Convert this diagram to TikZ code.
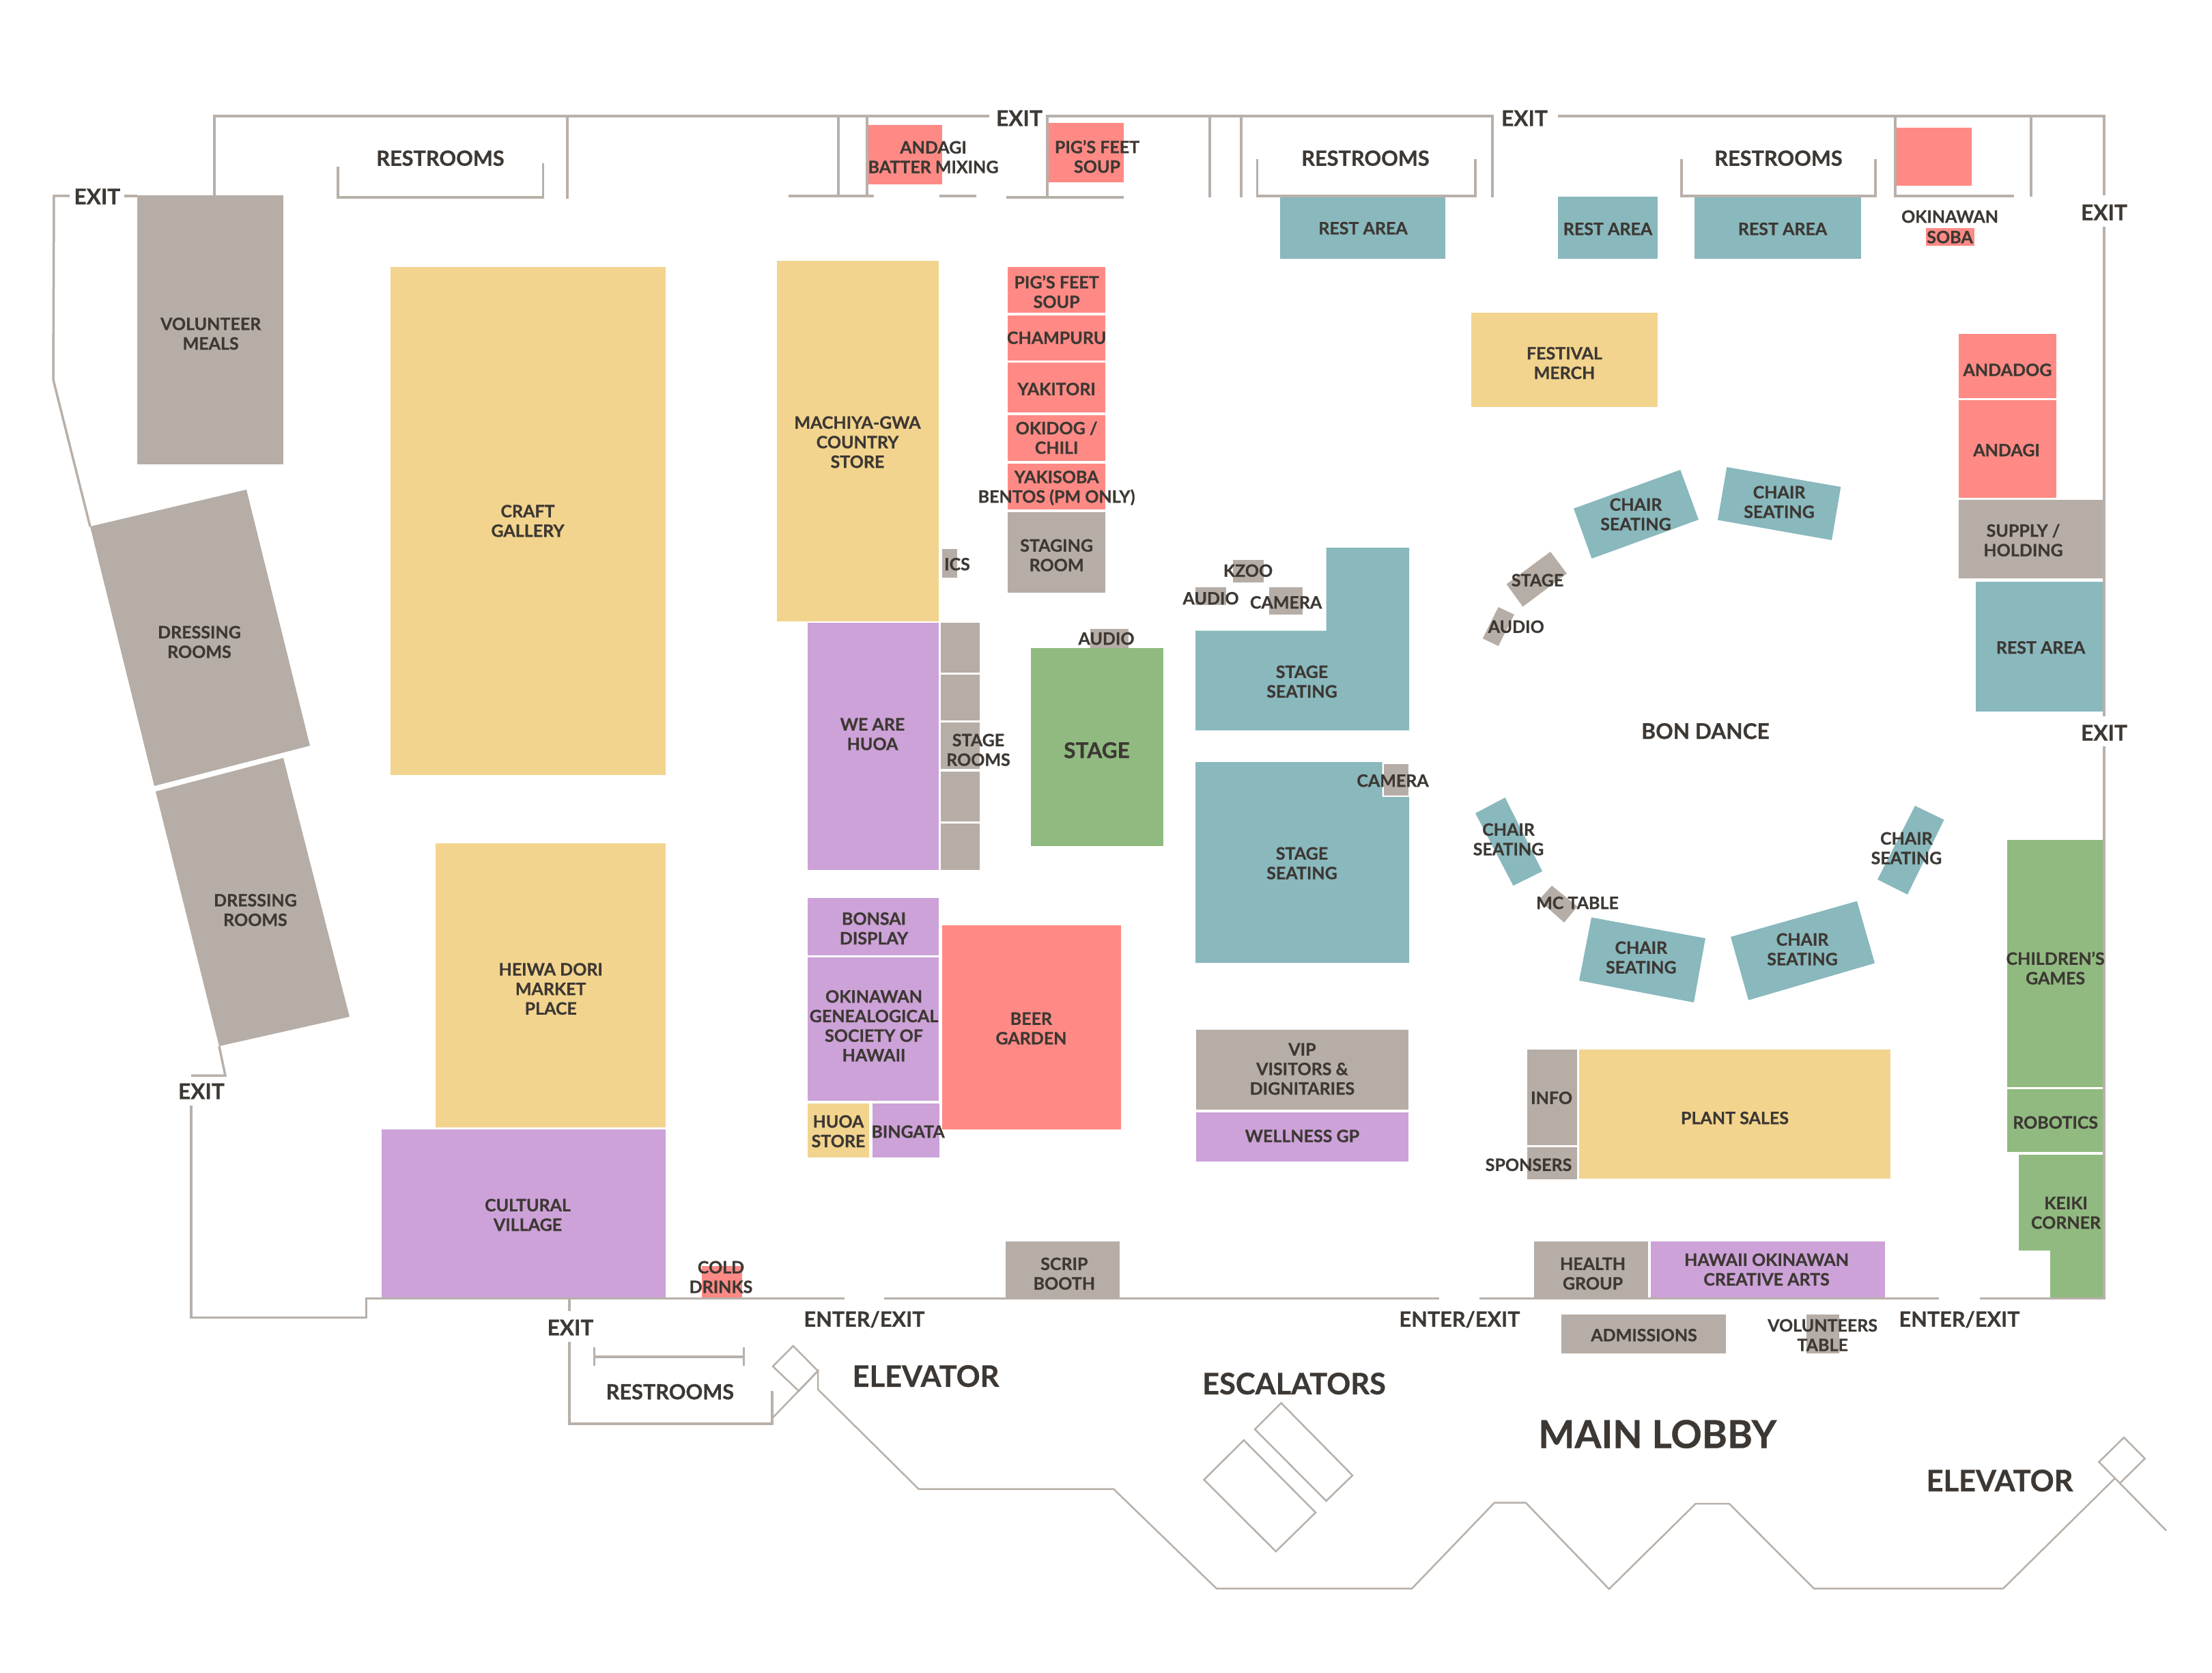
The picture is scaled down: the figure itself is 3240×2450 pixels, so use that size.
\documentclass[tikz,border=0pt]{standalone}
\usepackage{fontspec}
\setmainfont{Lato}[BoldFeatures={FakeBold=0.7}]
\definecolor{zgrey}{HTML}{B5ADA6}
\definecolor{zyellow}{HTML}{F2D48E}
\definecolor{zpurple}{HTML}{CCA2D8}
\definecolor{zred}{HTML}{FF8A85}
\definecolor{zteal}{HTML}{89B8BD}
\definecolor{zgreen}{HTML}{90BA80}
\definecolor{zink}{HTML}{3D3833}
\definecolor{zwall}{HTML}{B8B0A9}
\tikzset{
  grey/.style={fill=zgrey},
  yellowz/.style={fill=zyellow},
  purplez/.style={fill=zpurple},
  redz/.style={fill=zred},
  tealz/.style={fill=zteal},
  greenz/.style={fill=zgreen},
  wall/.style={draw=zwall,line width=1.05pt,fill=none},
  thinwall/.style={draw=zwall,line width=0.75pt,fill=none},
  lblbase/.style={align=center,inner sep=0pt,text=zink,yshift=-0.35pt},
  lbl/.style={lblbase,font=\fontsize{7.5}{8.6}\selectfont\bfseries},
  midlbl/.style={lblbase,font=\fontsize{9.5}{11}\selectfont\bfseries},
  restlbl/.style={lblbase,font=\fontsize{9.2}{11}\selectfont\bfseries},
  biglbl/.style={lblbase,font=\fontsize{13}{15}\selectfont\bfseries},
  hugelbl/.style={lblbase,font=\fontsize{16.9}{20}\selectfont\bfseries},
}
\newcommand\lab[4][lbl]{\node[#1] (#2) at (#3) {#4};}
\begin{document}
\begin{tikzpicture}[x=0.3pt,y=-0.3pt]
\useasboundingbox (0,0) rectangle (3240,2450);
% --- grey rooms
\fill[grey] (201,286) rectangle (415,680);
\fill[grey] (132,771) -- (361,717) -- (454,1092) -- (226,1151) -- cycle;
\fill[grey] (228,1159) -- (415,1110) -- (512,1489) -- (321,1532) -- cycle;
\fill[grey] (1476,750) rectangle (1619,868);
\fill[grey] (1380,804) rectangle (1402,846);
\fill[grey] (1806,820) rectangle (1851,853);
\fill[grey] (1751,860) rectangle (1796,886);
\fill[grey] (1859,860) rectangle (1908,900);
\fill[grey] (1597,921) rectangle (1653,949);
\fill[grey] (1378,912) rectangle (1435,985);
\fill[grey] (1378,988) rectangle (1435,1055);
\fill[grey] (1378,1058) rectangle (1435,1126);
\fill[grey] (1378,1130) rectangle (1435,1203);
\fill[grey] (1378,1206) rectangle (1435,1274);
\fill[grey] (2869,732) rectangle (3080,847);
\fill[grey] (2271,808) -- (2295,840) -- (2230.5,888.5) -- (2206.6,855.5) -- cycle;
\fill[grey] (2194.7,889) -- (2218,900) -- (2194.7,946) -- (2171.6,935) -- cycle;
\fill[grey] (2273,1297) -- (2310.5,1327.5) -- (2291,1351) -- (2254,1318) -- cycle;
\fill[grey] (2237,1537) rectangle (2310,1677);
\fill[grey] (2237,1680) rectangle (2310,1727);
\fill[grey] (2246.6,1818) rectangle (2414,1901);
\fill[grey] (2287,1925) rectangle (2528,1982);
\fill[grey] (2646,1925) rectangle (2693.5,1982);
\fill[grey] (1752.4,1507.7) rectangle (2062.5,1625);
\fill[grey] (1472.5,1818) rectangle (1640,1901);
% --- yellow
\fill[yellowz] (572,391) rectangle (975,1135);
\fill[yellowz] (1138,382) rectangle (1375,909.5);
\fill[yellowz] (2155,458) rectangle (2428,596);
\fill[yellowz] (637.6,1235) rectangle (975,1651);
\fill[yellowz] (1183,1616) rectangle (1273,1695);
\fill[yellowz] (2313,1537) rectangle (2769,1726);
% --- purple
\fill[purplez] (559,1654.4) rectangle (975,1901);
\fill[purplez] (1183,912) rectangle (1375,1274);
\fill[purplez] (1183,1315) rectangle (1375,1398.5);
\fill[purplez] (1183,1402) rectangle (1375,1611.6);
\fill[purplez] (1278,1616) rectangle (1376,1695);
\fill[purplez] (1752.4,1629) rectangle (2062.5,1700.6);
\fill[purplez] (2418,1818) rectangle (2761,1901);
% --- red
\fill[redz] (1271,183.5) rectangle (1380,270.5);
\fill[redz] (1535.6,180) rectangle (1646,267);
\fill[redz] (1476,391) rectangle (1619,458);
\fill[redz] (1476,462) rectangle (1619,528);
\fill[redz] (1476,531) rectangle (1619,604);
\fill[redz] (1476,608) rectangle (1619,675);
\fill[redz] (1476,679) rectangle (1619,746);
\fill[redz] (1380,1354.6) rectangle (1641.6,1654.4);
\fill[redz] (1027.7,1854) rectangle (1087,1901);
\fill[redz] (2778,187) rectangle (2888,272);
\fill[redz] (2821,333.6) rectangle (2892,359.6);
\fill[redz] (2869,488.6) rectangle (3012,583);
\fill[redz] (2869,586) rectangle (3012,729);
% --- teal
\fill[tealz] (1875,289) rectangle (2117,379);
\fill[tealz] (2282,288) rectangle (2428,379);
\fill[tealz] (2482,288) rectangle (2726,379);
\fill[tealz] (2894,852) rectangle (3080,1042);
\fill[tealz] (1751,923.6) -- (1942.5,923.6) -- (1942.5,802) -- (2064,802) -- (2064,1069.5) -- (1751,1069.5) -- cycle;
\fill[tealz] (1751,1116) -- (2024.6,1116) -- (2024.6,1167) -- (2064,1167) -- (2064,1410) -- (1751,1410) -- cycle;
\fill[grey] (2027,1118.6) rectangle (2062.5,1165);
\fill[tealz] (2305,744.7) -- (2461.3,688) -- (2488,761) -- (2331.5,818) -- cycle;
\fill[tealz] (2529.3,684) -- (2696.3,713) -- (2683,791) -- (2516,761.5) -- cycle;
\fill[tealz] (2161,1191) -- (2204.5,1168) -- (2259,1276) -- (2216.5,1297) -- cycle;
\fill[tealz] (2805,1180) -- (2847.5,1200.5) -- (2794,1310) -- (2750,1288) -- cycle;
\fill[tealz] (2331,1343.5) -- (2498,1374) -- (2481,1468) -- (2313,1436) -- cycle;
\fill[tealz] (2535,1372) -- (2720,1319.6) -- (2746,1410.5) -- (2561,1464.7) -- cycle;
% --- green
\fill[greenz] (1509.7,949) rectangle (1704,1239);
\fill[greenz] (2940.4,1230) rectangle (3080,1592);
\fill[greenz] (2940.4,1594.6) rectangle (3080,1687);
\fill[greenz] (2957,1691) -- (3080,1691) -- (3080,1901) -- (3003,1901) -- (3003,1831.4) -- (2957,1831.4) -- cycle;
% --- walls
\draw[wall] (314,286) -- (314,170) -- (1449,170);
\draw[wall] (831,170) -- (831,291);
\draw[wall] (495,244) -- (495,289) -- (795.5,289) -- (795.5,239);
\draw[wall] (201,287) -- (182,287);
\draw[wall] (102,287) -- (79,287) -- (78,556) -- (132,771);
\draw[wall] (321,1532) -- (330,1575) -- (280,1575);
\draw[wall] (280,1618.5) -- (280,1929.4) -- (536.6,1929.4) -- (536.6,1901.5) -- (1237,1901.5);
\draw[wall] (1295,1901.5) -- (2108,1901.5);
\draw[wall] (2167,1901.5) -- (2840,1901.5);
\draw[wall] (2900,1901.5) -- (3082,1901.5) -- (3082,1093);
\draw[wall] (3082,1049) -- (3082,331.5);
\draw[wall] (3082,286) -- (3082,170) -- (2282,170);
\draw[wall] (1534,289) -- (1534,170) -- (2186,170) -- (2186,289);
\draw[wall] (1228,170) -- (1228,287);
\draw[wall] (1270,170) -- (1270,287);
\draw[wall] (1772,170) -- (1772,289);
\draw[wall] (1818,170) -- (1818,289);
\draw[wall] (1155,287) -- (1280,287);
\draw[wall] (1376,287) -- (1430,287);
\draw[wall] (1474,289) -- (1646,289);
\draw[wall] (1841.5,233) -- (1841.5,287) -- (2161,287) -- (2161,233);
\draw[wall] (2463,233) -- (2463,287) -- (2747,287) -- (2747,233);
\draw[wall] (2776,170) -- (2776,287) -- (2950,287);
\draw[wall] (2975,170) -- (2975,288);
\draw[wall] (834,1901.5) -- (834,1920);
\draw[wall] (834,1965) -- (834,2085) -- (1131,2085) -- (1131,2037);
\draw[wall] (870.6,1973) -- (870.6,2000);
\draw[wall] (1089.4,1973) -- (1089.4,2000);
\draw[wall] (870.6,1987) -- (1089.4,1987);
% --- lobby
\draw[thinwall] (1132,2001) -- (1161.7,1971) -- (1198,2007.6) -- (1170,2037) -- cycle;
\draw[thinwall] (1131,2077) -- (1198,2007.6) -- (1198,2034.6) -- (1345.5,2180.5) -- (1631,2180.5) -- (1782,2326.4) -- (2068,2326.4) -- (2189,2200.5) -- (2234.7,2200.5) -- (2356.8,2327) -- (2483.7,2202) -- (2532.8,2202) -- (2657,2326.4) -- (2934,2326.4) -- (3097.6,2165);
\draw[thinwall] (3074.4,2141) -- (3111,2105) -- (3141.7,2136) -- (3105,2172) -- cycle;
\draw[thinwall] (3105,2172) -- (3173,2241.5);
\draw[thinwall] (1876.6,2054.6) -- (1981,2160.6) -- (1942.5,2198) -- (1838,2093) -- cycle;
\draw[thinwall] (1821.8,2109) -- (1927,2215) -- (1868.8,2272) -- (1763.6,2167) -- cycle;
% --- labels
\lab{volmeals}{308.7,487.5}{VOLUNTEER\\MEALS}
\lab{dress1}{292,939}{DRESSING\\ROOMS}
\lab{dress2}{374,1331.5}{DRESSING\\ROOMS}
\lab{craft}{773,761.7}{CRAFT\\GALLERY}
\lab{heiwa}{806.7,1447}{HEIWA DORI\\MARKET\\PLACE}
\lab{cultural}{773,1778}{CULTURAL\\VILLAGE}
\lab{colddrinks}{1056,1869}{COLD\\DRINKS}
\lab{andagibatter}{1367,229}{ANDAGI\\BATTER MIXING}
\lab{pigstop}{1607,228}{PIG’S FEET\\SOUP}
\lab{restarea1}{1996.5,333}{REST AREA}
\lab{restarea2}{2355,334}{REST AREA}
\lab{restarea3}{2611,334}{REST AREA}
\lab{okisoba1}{2856,316}{OKINAWAN}
\lab{okisoba2}{2856,346}{SOBA}
\lab{machiya}{1256,646.3}{MACHIYA-GWA\\COUNTRY\\STORE}
\lab{pigs}{1547.6,426}{PIG’S FEET\\SOUP}
\lab{champuru}{1547.6,493.5}{CHAMPURU}
\lab{yakitori}{1547.6,568.6}{YAKITORI}
\lab{okidog}{1547.6,640}{OKIDOG /\\CHILI}
\lab{yakisoba}{1547.6,713.5}{YAKISOBA\\BENTOS (PM ONLY)}
\lab{staging}{1547.6,812}{STAGING\\ROOM}
\lab{ics}{1402,825}{ICS}
\lab{kzoo}{1828,834.5}{KZOO}
\lab{audioa}{1773.5,875}{AUDIO}
\lab{cameraa}{1883.6,881}{CAMERA}
\lab{audiob}{1620.5,934}{AUDIO}
\lab{weare}{1278,1074}{WE ARE\\HUOA}
\lab{stagerooms}{1433,1097}{STAGE\\ROOMS}
\lab[midlbl]{stage}{1606.5,1097.5}{STAGE}
\lab{seat1}{1907,997}{STAGE\\SEATING}
\lab{seat2}{1907,1263}{STAGE\\SEATING}
\lab{camerab}{2040,1142}{CAMERA}
\lab{festival}{2291.5,530.5}{FESTIVAL\\MERCH}
\lab{andadog}{2940.4,540.5}{ANDADOG}
\lab{andagi}{2939,658}{ANDAGI}
\lab{supply}{2963.5,790}{SUPPLY /\\HOLDING}
\lab{restarea4}{2989,947}{REST AREA}
\lab{chair1}{2396,752}{CHAIR\\SEATING}
\lab{chair2}{2606,734}{CHAIR\\SEATING}
\lab{stagesmall}{2252,848.5}{STAGE}
\lab{audiosmall}{2220.7,916.6}{AUDIO}
\lab[midlbl]{bondance}{2498,1069.5}{BON DANCE}
\lab{chair3}{2209.5,1228}{CHAIR\\SEATING}
\lab{chair4}{2792.4,1241}{CHAIR\\SEATING}
\lab{mctable}{2310.5,1321}{MC TABLE}
\lab{chair5}{2403.8,1401}{CHAIR\\SEATING}
\lab{chair6}{2640,1389}{CHAIR\\SEATING}
\lab{info}{2272.6,1606.6}{INFO}
\lab{sponsers}{2239,1704.6}{SPONSERS}
\lab{plant}{2541,1636}{PLANT SALES}
\lab{health}{2333,1864}{HEALTH\\GROUP}
\lab{hoca}{2587.5,1858}{HAWAII OKINAWAN\\CREATIVE ARTS}
\lab{admissions}{2408,1954}{ADMISSIONS}
\lab{volunteers}{2669.6,1954}{VOLUNTEERS\\TABLE}
\lab{children}{3010.6,1416.5}{CHILDREN’S\\GAMES}
\lab{robotics}{3010.6,1642.6}{ROBOTICS}
\lab{keiki}{3026,1775}{KEIKI\\CORNER}
\lab{bonsai}{1280,1358.5}{BONSAI\\DISPLAY}
\lab{genea}{1280,1501}{OKINAWAN\\GENEALOGICAL\\SOCIETY OF\\HAWAII}
\lab{huoastore}{1228,1655.5}{HUOA\\STORE}
\lab{bingata}{1330,1656}{BINGATA}
\lab{beer}{1510.4,1505}{BEER\\GARDEN}
\lab{vip}{1907.4,1564.3}{VIP\\VISITORS \&\\DIGNITARIES}
\lab{wellness}{1907.4,1662.4}{WELLNESS GP}
\lab{scrip}{1558.8,1864}{SCRIP\\BOOTH}
\lab[restlbl]{rest1}{645,230.5}{RESTROOMS}
\lab[restlbl]{rest2}{2000,230.5}{RESTROOMS}
\lab[restlbl]{rest3}{2605,230.5}{RESTROOMS}
\lab[restlbl]{rest4}{981.4,2037}{RESTROOMS}
\lab[midlbl]{exit1}{142.4,286.6}{EXIT}
\lab[midlbl]{exit2}{1493,172}{EXIT}
\lab[midlbl]{exit3}{2233,172}{EXIT}
\lab[midlbl]{exit4}{3082,310}{EXIT}
\lab[midlbl]{exit5}{3082,1072}{EXIT}
\lab[midlbl]{exit6}{295,1597}{EXIT}
\lab[midlbl]{exit7}{835.5,1943}{EXIT}
\lab[restlbl]{enter1}{1266,1931}{ENTER/EXIT}
\lab[restlbl]{enter2}{2138,1931}{ENTER/EXIT}
\lab[restlbl]{enter3}{2870,1931}{ENTER/EXIT}
\lab[biglbl]{elev1}{1356,2014}{ELEVATOR}
\lab[biglbl]{elev2}{2929,2167}{ELEVATOR}
\lab[biglbl]{escal}{1895.5,2025}{ESCALATORS}
\lab[hugelbl]{lobby}{2427.6,2099}{MAIN LOBBY}
\end{tikzpicture}
\end{document}
